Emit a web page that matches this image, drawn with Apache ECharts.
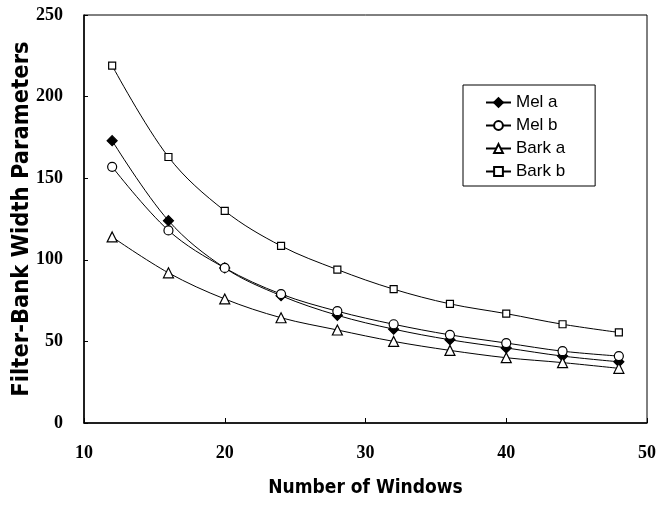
<!DOCTYPE html>
<html>
<head>
<meta charset="utf-8">
<script src="https://cdn.jsdelivr.net/npm/echarts@6/dist/echarts.min.js"></script>
<style>html,body{margin:0;padding:0;background:#fff}#c{width:658px;height:505px}</style>
</head>
<body>
<div id="c"></div>
<script>
var windows = [12, 16, 20, 24, 28, 32, 36, 40, 44, 48];
var melA  = [173, 124, 95, 78, 66, 57.5, 51, 46, 41, 37.5];
var melB  = [157, 118, 95, 79, 68.5, 60.5, 54, 49, 44, 41];
var barkA = [114, 92, 76, 64.5, 57, 50, 44.5, 40, 37, 33.5];
var barkB = [219, 163, 130, 108.5, 94, 82, 73, 67, 60.5, 55.5];
var seriesNames = ['Mel a', 'Mel b', 'Bark a', 'Bark b'];

function pairs(ys) { return windows.map(function (x, i) { return [x, ys[i]]; }); }

function mk(name, ys, symbol, size, fill) {
  return {
    name: name, type: 'line', data: pairs(ys), smooth: 0.35,
    symbol: symbol, symbolSize: size,
    lineStyle: { color: '#000', width: 1 },
    itemStyle: { color: fill, borderColor: '#000', borderWidth: 1.2 },
    emphasis: { disabled: true }
  };
}

var chart = echarts.init(document.getElementById('c'));
chart.setOption({
  animation: false,
  backgroundColor: '#fff',
  grid: { left: 84, right: 11, top: 15, bottom: 82, containLabel: false, outerBoundsMode: 'none',
          show: true, borderColor: '#000', borderWidth: 1, backgroundColor: 'transparent' },
  legend: {
    data: seriesNames,
    orient: 'vertical', left: 463, top: 85,
    padding: [9, 30, 6, 22], itemGap: 6, itemWidth: 25, itemHeight: 11,
    borderColor: '#000', borderWidth: 1,
    textStyle: { fontFamily: 'Liberation Sans', fontSize: 17, color: '#000' }
  },
  xAxis: {
    type: 'value', min: 10, max: 50, interval: 10,
    name: 'Number of Windows', nameLocation: 'middle', nameGap: 56, nameMoveOverlap: false,
    nameTextStyle: { fontFamily: 'DejaVu Sans Condensed', fontWeight: 'bold', fontSize: 19, color: '#000' },
    axisLine: { lineStyle: { color: '#000', width: 1.5 } },
    axisTick: { inside: true, length: 5, lineStyle: { color: '#000' } },
    axisLabel: { fontFamily: 'Liberation Serif', fontWeight: 'bold', fontSize: 18, color: '#000', margin: 21 },
    splitLine: { show: false }
  },
  yAxis: {
    type: 'value', min: 0, max: 250, interval: 50,
    name: 'Filter-Bank Width Parameters', nameLocation: 'middle', nameGap: 50, nameMoveOverlap: false,
    nameTextStyle: { fontFamily: 'DejaVu Sans Condensed', fontWeight: 'bold', fontSize: 23.5, color: '#000' },
    axisLine: { lineStyle: { color: '#000', width: 1.5 } },
    axisTick: { inside: true, length: 4, lineStyle: { color: '#000' } },
    axisLabel: { fontFamily: 'Liberation Serif', fontWeight: 'bold', fontSize: 18, color: '#000', margin: 21 },
    splitLine: { show: false }
  },
  series: [
    mk('Mel a', melA, 'diamond', 10, '#000'),
    mk('Mel b', melB, 'circle', 9, '#fff'),
    mk('Bark a', barkA, 'triangle', 10, '#fff'),
    mk('Bark b', barkB, 'rect', 7, '#fff')
  ]
});
</script>
</body>
</html>
